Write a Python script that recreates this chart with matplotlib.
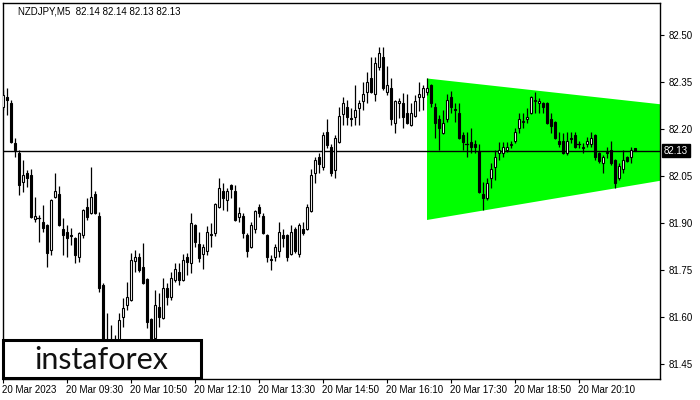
import matplotlib
matplotlib.use("Agg")
import matplotlib.pyplot as plt
from matplotlib.patches import Rectangle, Polygon
import matplotlib.transforms as mtransforms

plt.rcParams['font.family'] = ['Liberation Sans', 'DejaVu Sans']

# ---------------- data (NZDJPY, M5) ----------------
opens = [82.270, 82.302, 82.283, 82.155, 82.123, 82.031, 82.059, 82.053, 81.912, 81.915,
         81.903, 81.893, 81.813, 81.983, 81.992, 81.880, 81.871, 81.861, 81.851, 81.791,
         81.861, 81.951, 81.931, 81.992, 81.922, 81.701, 81.493, 81.509, 81.487, 81.500,
         81.599, 81.637, 81.653, 81.778, 81.791, 81.759, 81.720, 81.592, 81.532, 81.631,
         81.596, 81.692, 81.663, 81.717, 81.743, 81.717, 81.791, 81.771, 81.893, 81.832,
         81.800, 81.810, 81.864, 81.867, 81.951, 82.002, 81.973, 82.021, 82.002, 81.919,
         81.922, 81.861, 81.823, 81.880, 81.951, 81.922, 81.861, 81.784, 81.791, 81.810,
         81.861, 81.861, 81.800, 81.880, 81.800, 81.880, 81.880, 81.938, 82.059, 82.110,
         82.078, 82.190, 82.142, 82.069, 82.158, 82.248, 82.270, 82.235, 82.238, 82.267,
         82.290, 82.318, 82.363, 82.312, 82.398, 82.430, 82.318, 82.331, 82.219, 82.283,
         82.283, 82.251, 82.213, 82.242, 82.302, 82.302, 82.318, 82.341, 82.270, 82.232,
         82.187, 82.232, 82.302, 82.264, 82.251, 82.181, 82.152, 82.158, 82.152, 82.130,
         81.992, 81.979, 82.043, 82.078, 82.123, 82.123, 82.133, 82.149, 82.162, 82.203,
         82.222, 82.232, 82.251, 82.290, 82.283, 82.283, 82.283, 82.232, 82.222, 82.162,
         82.162, 82.123, 82.171, 82.181, 82.152, 82.142, 82.152, 82.152, 82.181, 82.123,
         82.091, 82.126, 82.133, 82.101, 82.043, 82.072, 82.110, 82.110, 82.140]
highs = [82.325, 82.331, 82.293, 82.171, 82.133, 82.101, 82.069, 82.072, 81.983, 81.925,
         81.957, 81.896, 81.976, 82.059, 82.018, 81.915, 81.893, 81.883, 81.855, 81.871,
         81.944, 81.979, 82.078, 82.002, 81.935, 81.708, 81.612, 81.573, 81.541, 81.612,
         81.660, 81.711, 81.803, 81.813, 81.803, 81.835, 81.723, 81.596, 81.685, 81.676,
         81.723, 81.708, 81.743, 81.771, 81.771, 81.800, 81.803, 81.931, 81.896, 81.871,
         81.832, 81.890, 81.899, 81.963, 82.043, 82.027, 82.011, 82.024, 82.021, 81.951,
         81.931, 81.867, 81.903, 81.941, 81.960, 81.931, 81.864, 81.797, 81.832, 81.903,
         81.880, 81.864, 81.893, 81.887, 81.899, 81.903, 81.960, 82.072, 82.110, 82.123,
         82.190, 82.232, 82.152, 82.181, 82.270, 82.302, 82.293, 82.267, 82.341, 82.293,
         82.350, 82.382, 82.430, 82.430, 82.462, 82.462, 82.401, 82.363, 82.293, 82.299,
         82.315, 82.312, 82.283, 82.309, 82.350, 82.341, 82.363, 82.344, 82.283, 82.245,
         82.261, 82.312, 82.322, 82.283, 82.283, 82.190, 82.190, 82.203, 82.165, 82.152,
         82.031, 82.043, 82.091, 82.133, 82.158, 82.158, 82.158, 82.162, 82.203, 82.251,
         82.251, 82.267, 82.306, 82.318, 82.299, 82.286, 82.286, 82.251, 82.226, 82.190,
         82.187, 82.190, 82.190, 82.190, 82.162, 82.155, 82.174, 82.190, 82.184, 82.126,
         82.117, 82.142, 82.162, 82.104, 82.091, 82.133, 82.114, 82.142, 82.140]
lows = [82.261, 82.245, 82.155, 82.110, 81.989, 81.999, 82.015, 81.915, 81.903, 81.839,
        81.871, 81.759, 81.797, 81.979, 81.890, 81.797, 81.791, 81.829, 81.771, 81.775,
        81.851, 81.909, 81.928, 81.928, 81.679, 81.477, 81.455, 81.468, 81.445, 81.487,
        81.567, 81.621, 81.650, 81.743, 81.743, 81.704, 81.564, 81.500, 81.519, 81.567,
        81.592, 81.637, 81.653, 81.711, 81.701, 81.714, 81.733, 81.739, 81.823, 81.775,
        81.752, 81.797, 81.823, 81.858, 81.947, 81.941, 81.938, 81.979, 81.906, 81.903,
        81.851, 81.791, 81.819, 81.867, 81.919, 81.864, 81.775, 81.749, 81.778, 81.791,
        81.823, 81.778, 81.797, 81.803, 81.791, 81.861, 81.877, 81.935, 82.027, 82.059,
        82.069, 82.139, 82.050, 82.043, 82.155, 82.213, 82.213, 82.210, 82.213, 82.213,
        82.261, 82.283, 82.315, 82.290, 82.389, 82.325, 82.309, 82.213, 82.187, 82.235,
        82.203, 82.216, 82.210, 82.238, 82.258, 82.261, 82.309, 82.270, 82.171, 82.133,
        82.184, 82.222, 82.251, 82.222, 82.168, 82.133, 82.110, 82.123, 82.123, 81.995,
        81.941, 81.973, 82.011, 82.037, 82.101, 82.110, 82.126, 82.139, 82.155, 82.187,
        82.203, 82.219, 82.248, 82.251, 82.251, 82.251, 82.216, 82.187, 82.168, 82.142,
        82.120, 82.117, 82.155, 82.139, 82.139, 82.123, 82.142, 82.142, 82.101, 82.091,
        82.059, 82.107, 82.085, 82.011, 82.037, 82.059, 82.094, 82.091, 82.130]
closes = [82.309, 82.293, 82.158, 82.133, 82.021, 82.053, 82.043, 81.919, 81.922, 81.915,
          81.883, 81.803, 81.973, 82.002, 81.893, 81.861, 81.851, 81.858, 81.797, 81.867,
          81.941, 81.919, 81.983, 81.931, 81.692, 81.493, 81.509, 81.487, 81.500, 81.589,
          81.628, 81.663, 81.781, 81.791, 81.749, 81.708, 81.583, 81.519, 81.637, 81.599,
          81.692, 81.663, 81.723, 81.752, 81.717, 81.781, 81.775, 81.899, 81.839, 81.787,
          81.823, 81.871, 81.861, 81.960, 82.011, 81.979, 82.002, 82.008, 81.909, 81.931,
          81.867, 81.810, 81.893, 81.938, 81.931, 81.867, 81.791, 81.781, 81.823, 81.871,
          81.851, 81.791, 81.871, 81.810, 81.893, 81.867, 81.951, 82.053, 82.101, 82.088,
          82.181, 82.149, 82.059, 82.171, 82.242, 82.283, 82.238, 82.232, 82.261, 82.283,
          82.312, 82.350, 82.318, 82.411, 82.443, 82.331, 82.341, 82.232, 82.290, 82.290,
          82.238, 82.219, 82.251, 82.290, 82.312, 82.331, 82.331, 82.283, 82.219, 82.203,
          82.219, 82.293, 82.270, 82.261, 82.171, 82.158, 82.152, 82.142, 82.142, 81.999,
          81.979, 82.027, 82.072, 82.110, 82.133, 82.142, 82.142, 82.152, 82.190, 82.232,
          82.226, 82.238, 82.302, 82.293, 82.290, 82.270, 82.219, 82.210, 82.171, 82.152,
          82.123, 82.162, 82.168, 82.142, 82.152, 82.139, 82.162, 82.171, 82.110, 82.098,
          82.110, 82.123, 82.091, 82.027, 82.082, 82.101, 82.098, 82.133, 82.130]

tick_labels = ["20 Mar 2023", "20 Mar 09:30", "20 Mar 10:50", "20 Mar 12:10",
               "20 Mar 13:30", "20 Mar 14:50", "20 Mar 16:10", "20 Mar 17:30",
               "20 Mar 18:50", "20 Mar 20:10"]
price_ticks = [81.45, 81.60, 81.75, 81.90, 82.05, 82.20, 82.35, 82.50]
bid_price = 82.13
header = "NZDJPY,M5  82.14 82.14 82.13 82.13"
# triangle pattern points (bar index, price)
tri_index = [106, 106, 233]
tri_price = [82.3615, 81.909, 82.182]

# ---------------- figure ----------------
W, H = 700, 400
fig = plt.figure(figsize=(7, 4), dpi=100)
fig.patch.set_facecolor('white')
ax = fig.add_axes([2.5 / W, 1 - 379 / H, (660 - 2.5) / W, (379 - 2.5) / H])
ax.set_xlim(-0.125, 164.25)
ax.set_ylim(81.4005, 82.6045)

# triangle
ax.add_patch(Polygon(list(zip(tri_index, tri_price)), closed=True,
                     facecolor='#00ff00', edgecolor='none', zorder=1))

# bid line
ax.axhline(bid_price, color='black', lw=1.0, zorder=2)

# candles
bw = 0.55
for i, (o, h, l, c) in enumerate(zip(opens, highs, lows, closes)):
    ax.plot([i, i], [l, h], color='black', lw=0.9, zorder=3, solid_capstyle='butt')
    lo, hi = min(o, c), max(o, c)
    if abs(c - o) < 0.0015:
        ax.plot([i - bw / 2 - 0.1, i + bw / 2 + 0.1], [c, c], color='black', lw=0.9, zorder=4)
    else:
        fc = 'white' if c > o else 'black'
        ax.add_patch(Rectangle((i - bw / 2, lo), bw, hi - lo, facecolor=fc,
                               edgecolor='black', lw=0.8, zorder=4))

# axes styling
for s in ax.spines.values():
    s.set_color('black')
    s.set_linewidth(1.0)
ax.yaxis.tick_right()
ax.set_yticks(price_ticks)
ax.set_yticklabels([f"{p:.2f}" for p in price_ticks])
ax.tick_params(axis='y', direction='out', length=3, width=0.8, pad=3, labelsize=7)
ax.set_xticks([16 * k for k in range(len(tick_labels))])
ax.set_xticklabels(tick_labels, ha='left')
ax.tick_params(axis='x', direction='out', length=3, width=0.8, pad=1.5, labelsize=7)
for lab in ax.get_xticklabels():
    lab.set_transform(lab.get_transform() + mtransforms.ScaledTranslation(-1 / 100, 0, fig.dpi_scale_trans))

# header
fig.text(18 / W, 1 - 11 / H, header, fontsize=7, va='center', ha='left', color='black')

# price tag
trans = mtransforms.blended_transform_factory(ax.transAxes, ax.transData)
ax.text(1.006, bid_price, f"{bid_price:.2f}", transform=trans, fontsize=7, color='white',
        va='center', ha='left', clip_on=False, zorder=10,
        bbox=dict(boxstyle='square,pad=0.15', facecolor='black', edgecolor='black'))

# logo box
logo = Rectangle((3 / W, 1 - 378 / H), (201 - 3) / W, (378 - 340) / H, transform=fig.transFigure,
                 facecolor='white', edgecolor='black', lw=2.2, zorder=20)
fig.add_artist(logo)
fig.text(101 / W, 1 - 360 / H, "instaforex", fontsize=22, ha='center', va='center',
         color='#111111', family=['Lato', 'DejaVu Sans'], weight='normal', zorder=21)

fig.savefig("out.png", dpi=100)
